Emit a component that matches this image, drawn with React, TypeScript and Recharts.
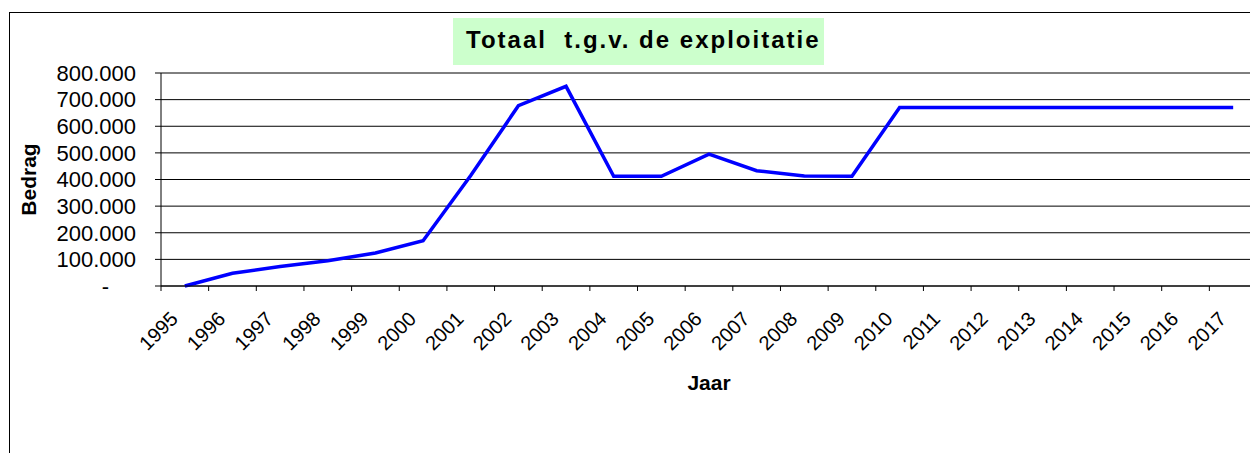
import React from "react";
import { LineChart, Line, XAxis, YAxis, CartesianGrid } from "recharts";

// categories
const years = [
  "1995", "1996", "1997", "1998", "1999", "2000", "2001", "2002", "2003", "2004", "2005", "2006",
  "2007", "2008", "2009", "2010", "2011", "2012", "2013", "2014", "2015", "2016", "2017",
];

// series values (Bedrag)
const bedrag = [
  0, 48000, 73000, 95000, 124000, 170000, 415000, 677000, 750000, 412000, 412000, 495000,
  433000, 413000, 412000, 670000, 670000, 670000, 670000, 670000, 670000, 670000, 670000,
];

// y tick values
const yTicks = [0, 100000, 200000, 300000, 400000, 500000, 600000, 700000, 800000];

// x positions on a numeric axis: points sit in the middle of each year slot, ticks on the boundaries
const data = years.map((year, i) => ({ year, slot: i + 0.5, bedrag: bedrag[i] }));
const xTicks = years.map((_, i) => i);

const font = "'Liberation Sans', Arial, sans-serif";

const fmt = (v: number) => (v === 0 ? "-" : v.toLocaleString("de-DE"));

function YTick(props: any) {
  const { x, y, payload } = props;
  const shift = payload.value === 0 ? -27 : 0;
  return (
    <text x={x + shift} y={y} dy="0.355em" textAnchor="end" fontSize={22} fontFamily={font} fill="#000">
      {fmt(payload.value)}
    </text>
  );
}

function XTick(props: any) {
  const { x, y, payload } = props;
  const label = years[payload.value] ?? "";
  const tx = x + 8;
  return (
    <text
      x={tx}
      y={y}
      dy="0.71em"
      textAnchor="end"
      transform={`rotate(-45, ${tx}, ${y})`}
      fontSize={20}
      fontFamily={font}
      fill="#000"
    >
      {label}
    </text>
  );
}

export default function App() {
  return (
    <div style={{ position: "fixed", left: 0, top: 0, width: 1250, height: 453, overflow: "hidden", background: "#fff" }}>
      <div
        style={{
          position: "absolute",
          left: 9,
          top: 12,
          width: 1300,
          height: 500,
          border: "1px solid #000",
        }}
      />
      <div style={{ position: "absolute", left: 0, top: 0 }}>
        <LineChart width={1270} height={453} data={data} margin={{ top: 73, right: 13, bottom: 57, left: 0 }}>
          <CartesianGrid vertical={false} stroke="#000" strokeWidth={1} />
          <XAxis
            dataKey="slot"
            type="number"
            domain={[0, 23]}
            ticks={xTicks}
            interval={0}
            height={110}
            tickSize={5}
            tickMargin={19}
            tick={<XTick />}
            axisLine={{ stroke: "#000" }}
            tickLine={{ stroke: "#000" }}
            label={{
              value: "Jaar",
              position: "insideBottom",
              offset: 6,
              fontSize: 21,
              fontWeight: "bold",
              fontFamily: font,
              fill: "#000",
            }}
          />
          <YAxis
            type="number"
            domain={[0, 800000]}
            ticks={yTicks}
            interval={0}
            width={161}
            tickSize={6}
            tickMargin={19}
            tick={<YTick />}
            axisLine={{ stroke: "#000" }}
            tickLine={{ stroke: "#000" }}
            label={{
              value: "Bedrag",
              angle: -90,
              position: "insideLeft",
              offset: 29,
              fontSize: 21,
              fontWeight: "bold",
              fontFamily: font,
              fill: "#000",
              style: { textAnchor: "middle" },
            }}
          />
          <Line
            type="linear"
            dataKey="bedrag"
            stroke="#0000FF"
            strokeWidth={3.5}
            dot={false}
            activeDot={false}
            isAnimationActive={false}
          />
        </LineChart>
      </div>
      <div
        style={{
          position: "absolute",
          left: 453,
          top: 18,
          width: 371,
          height: 47,
          background: "#CCFFCC",
          boxSizing: "border-box",
          paddingLeft: 13,
          fontFamily: font,
          fontWeight: "bold",
          fontSize: 24,
          letterSpacing: 2,
          lineHeight: "43px",
          whiteSpace: "pre",
          color: "#000",
        }}
      >
        {"Totaal  t.g.v. de exploitatie"}
      </div>
    </div>
  );
}
